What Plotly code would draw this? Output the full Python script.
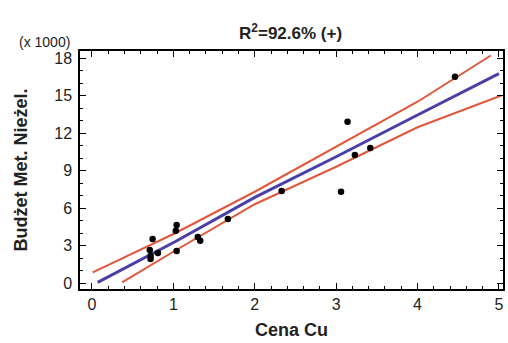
import plotly.graph_objects as go

# Observed data (x: Cena Cu, y: Budżet Met. Nieżel. in thousands)
cena_cu = [4.46, 3.14, 3.23, 3.42, 3.06, 2.33, 1.67, 1.04, 1.03, 1.04, 0.745, 0.71, 0.72, 0.72, 0.81, 1.30, 1.33]
budzet = [16.5, 12.9, 10.24, 10.8, 7.3, 7.36, 5.12, 4.64, 4.18, 2.56, 3.52, 2.64, 1.92, 2.16, 2.4, 3.68, 3.38]

# Fitted model line and confidence limits
fit_x = [0.07, 1.02, 2.0, 3.0, 4.0, 5.0]
fit_y = [0.05, 3.3, 6.85, 10.1, 13.44, 16.75]
upper_x = [0.01, 1.02, 2.0, 3.0, 4.0, 4.9]
upper_y = [0.85, 3.98, 7.3, 10.9, 14.5, 18.2]
lower_x = [0.37, 1.02, 2.0, 3.0, 4.0, 5.03]
lower_y = [0.05, 2.58, 6.3, 9.3, 12.46, 15.0]

x_ticks = [0, 1, 2, 3, 4, 5]
y_ticks = [0, 3, 6, 9, 12, 15, 18]

RED = "#E2573C"
BLUE = "#4A3FA6"
FONT = "Liberation Sans, Arial, sans-serif"
TXT = "#222222"

fig = go.Figure()
fig.add_trace(go.Scatter(x=upper_x, y=upper_y, mode="lines",
                         line=dict(color=RED, width=2), showlegend=False))
fig.add_trace(go.Scatter(x=lower_x, y=lower_y, mode="lines",
                         line=dict(color=RED, width=2), showlegend=False))
fig.add_trace(go.Scatter(x=fit_x, y=fit_y, mode="lines",
                         line=dict(color=BLUE, width=3), showlegend=False))
fig.add_trace(go.Scatter(x=cena_cu, y=budzet, mode="markers",
                         marker=dict(color="black", size=6.5), showlegend=False))

axis_common = dict(
    showline=True, linecolor="black", linewidth=1.5, mirror="ticks",
    ticks="inside", ticklen=6, tickwidth=1.2, tickcolor="black",
    showgrid=False, zeroline=False,
    tickfont=dict(family=FONT, size=16, color=TXT),
)

fig.update_layout(
    width=508, height=343,
    margin=dict(l=80, r=5, t=51, b=54, autoexpand=False),
    paper_bgcolor="white", plot_bgcolor="white",
    title=dict(text="<b>R<sup>2</sup>=92.6% (+)</b>", x=0.572, xanchor="center",
               y=0.904, yanchor="middle", font=dict(family=FONT, size=17, color=TXT)),
    xaxis=dict(range=[-0.147, 5.05], tickvals=x_ticks,
               minor=dict(dtick=0.2, ticks="inside", ticklen=3, tickcolor="black", showgrid=False),
               title=dict(text="<b>Cena Cu</b>", font=dict(family=FONT, size=18, color=TXT), standoff=11),
               **axis_common),
    yaxis=dict(range=[-0.48, 18.56], tickvals=y_ticks, ticklabelstandoff=3,
               minor=dict(dtick=1, ticks="inside", ticklen=3, tickcolor="black", showgrid=False),
               title=dict(text="<b>Budżet Met. Nieżel.</b>", font=dict(family=FONT, size=18, color=TXT), standoff=22),
               **axis_common),
    annotations=[dict(text="(x 1000)", x=0, y=1.0, xref="paper", yref="paper",
                      xanchor="right", yanchor="bottom", xshift=-8, yshift=-1, showarrow=False,
                      font=dict(family=FONT, size=14, color=TXT))],
)

fig.write_html("out.html", config={"displayModeBar": False},
               post_script="document.body.style.margin='0';document.body.style.overflow='hidden';")
